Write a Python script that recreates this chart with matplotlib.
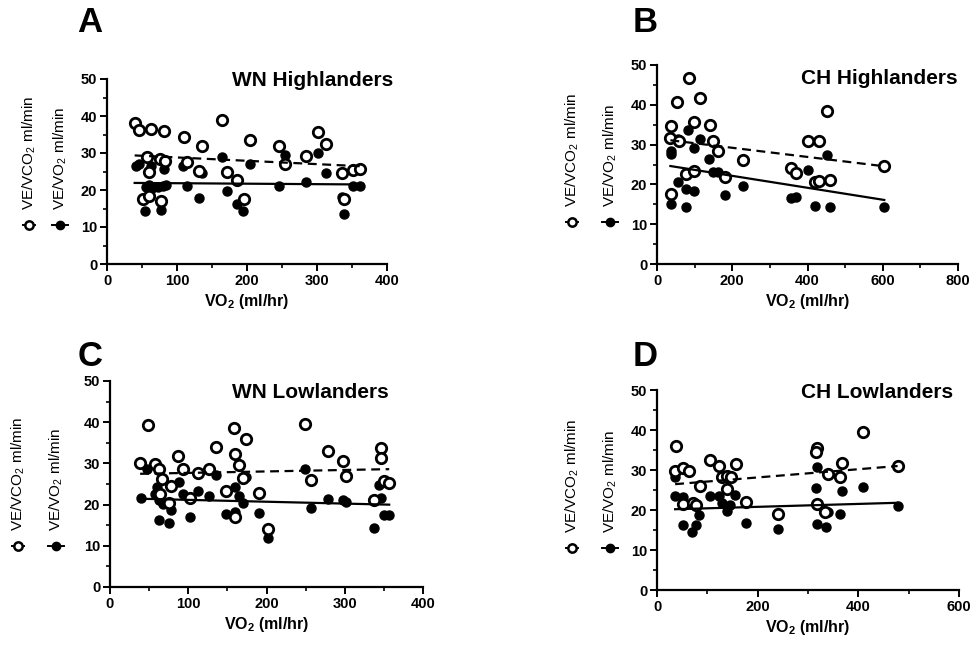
import matplotlib
matplotlib.use("Agg")
import matplotlib.pyplot as plt
import numpy as np
from matplotlib.lines import Line2D
from matplotlib.ticker import MultipleLocator

plt.rcParams['font.family'] = ['Liberation Sans', 'DejaVu Sans']
plt.rcParams['mathtext.fontset'] = 'custom'
plt.rcParams['mathtext.rm'] = 'Liberation Sans'
plt.rcParams['mathtext.it'] = 'Liberation Sans:italic'
plt.rcParams['mathtext.bf'] = 'Liberation Sans:bold'

# ---------------- data ----------------
titles = ["WN Highlanders", "CH Highlanders", "WN Lowlanders", "CH Lowlanders"]
panel_letters = ["A", "B", "C", "D"]
xmax_list = [400, 800, 400, 600]

# Panel A
a_open_x = [39.5, 45, 62.9, 82, 109.5, 135.7, 164, 204, 246, 301, 313, 57.6, 75.7, 83, 114.8,
            59.5, 132, 171, 186, 253.8, 283.8, 52, 60, 76.7, 195, 335, 338.6, 351, 361]
a_open_y = [38.0, 36.1, 36.4, 35.9, 34.2, 32.0, 38.9, 33.6, 31.8, 35.8, 32.5, 28.9, 28.4, 27.9, 27.7,
            24.8, 25.2, 24.8, 22.7, 27.0, 29.2, 17.5, 18.4, 16.9, 17.5, 24.7, 17.5, 25.3, 25.6]
a_fill_x = [41, 45.7, 63, 81.4, 55, 60, 64.8, 72.8, 80, 84.8, 108.6, 114.3, 132, 136, 164, 171.9,
            203.8, 186, 194, 53.8, 76.7, 245, 254.8, 283.8, 301, 313, 336, 338.6, 351, 361]
a_fill_y = [26.5, 27.0, 26.4, 25.6, 20.9, 21.4, 20.5, 20.9, 21.2, 21.4, 26.4, 21.1, 17.9, 24.5, 28.9, 19.8,
            26.9, 16.2, 14.2, 14.2, 14.7, 21.2, 29.5, 22.1, 30.0, 24.5, 18.0, 13.5, 21.1, 21.1]

# Panel B
b_open_x = [37.3, 35.6, 52, 57.8, 86, 77, 99.6, 99.6, 114.7, 139.6, 150, 161.8, 181, 228, 37.3,
            357, 369, 402, 431, 420, 431, 460, 453, 604]
b_open_y = [34.7, 31.7, 40.7, 30.9, 46.7, 22.5, 35.7, 23.3, 41.8, 34.9, 30.9, 28.5, 21.9, 26.1, 17.6,
            24.2, 22.9, 30.9, 30.9, 20.5, 20.9, 21.2, 38.4, 24.7]
b_fill_x = [37.3, 37.3, 37.3, 56.9, 55, 83.6, 77, 77, 97.8, 97.8, 113, 137.8, 148.4, 161.8, 181, 228,
            357, 369, 402, 420, 453, 460, 604]
b_fill_y = [28.4, 27.7, 15.1, 20.6, 31.3, 33.6, 18.9, 14.4, 29.2, 18.4, 31.3, 26.4, 23.1, 23.1, 17.4, 19.7,
            16.7, 16.8, 23.7, 14.5, 27.3, 14.2, 14.3]

# Panel C
c_open_x = [38.5, 49, 57.7, 62, 66, 64, 76, 77.8, 86.8, 93, 102.6, 113, 126, 135, 148.7, 158, 160,
            164.5, 160, 170, 174, 191, 201.7, 248.7, 257, 279, 297.9, 302, 337.6, 346, 346, 350, 356.8]
c_open_y = [30.0, 39.2, 29.9, 28.7, 26.2, 22.6, 20.4, 24.6, 31.8, 28.6, 21.6, 27.6, 28.7, 34.1, 23.4, 38.7, 32.2,
            29.6, 17.1, 26.4, 35.9, 22.9, 14.1, 39.5, 26.0, 32.9, 30.5, 27.0, 21.2, 33.7, 31.4, 25.8, 25.2]
c_fill_x = [39.3, 47, 60.7, 57.7, 63, 67.5, 77.8, 63, 74.8, 88, 93, 102.6, 113, 126, 135, 148.7, 160,
            160, 164.5, 170, 173.7, 191, 201.7, 248.7, 257, 279, 297.9, 302, 337.6, 346, 344, 350, 356.8]
c_fill_y = [21.7, 28.7, 24.2, 22.6, 21.0, 20.2, 18.7, 16.3, 15.5, 25.4, 22.5, 17.0, 23.4, 22.2, 27.1, 17.8, 24.2,
            18.2, 22.0, 20.4, 26.6, 17.9, 11.9, 28.6, 19.1, 21.4, 21.2, 20.6, 14.3, 21.7, 24.8, 17.5, 17.4]

# Panel D
d_open_x = [37.5, 36, 52.6, 63.8, 85.5, 51.3, 71, 77.6, 105, 123.7, 130, 140, 148, 156, 140, 177.6,
            240, 317.8, 315.8, 317.8, 333.5, 340, 363.8, 367, 410, 478]
d_open_y = [36.0, 29.8, 30.4, 29.8, 26.0, 21.5, 21.7, 21.2, 32.5, 31.1, 28.3, 28.5, 28.3, 31.5, 25.3, 22.1,
            19.0, 35.4, 34.6, 21.5, 19.4, 29.0, 28.2, 31.8, 39.4, 31.0]
d_fill_x = [36, 36, 52.6, 52.6, 69, 72.4, 77.6, 83.6, 105, 123.7, 130, 140, 146, 154, 177.6, 240,
            317.8, 315.8, 317.8, 335, 340, 363.8, 367, 410, 478]
d_fill_y = [28.3, 23.6, 23.3, 16.3, 14.6, 21.9, 16.3, 18.75, 23.6, 23.6, 21.7, 19.75, 21.25, 23.75, 16.7, 15.25,
            30.8, 25.6, 16.5, 15.7, 19.4, 18.9, 24.75, 25.8, 21.0]

# regression lines: (intercept, slope)
fit_open = [(29.7, -0.00903), (31.5, -0.0115), (27.34, 0.00355), (26.09, 0.01026)]
fit_fill = [(21.96, -0.00127), (25.15, -0.0150), (21.6, -0.00452), (20.06, 0.00365)]

open_x = [a_open_x, b_open_x, c_open_x, d_open_x]
open_y = [a_open_y, b_open_y, c_open_y, d_open_y]
fill_x = [a_fill_x, b_fill_x, c_fill_x, d_fill_x]
fill_y = [a_fill_y, b_fill_y, c_fill_y, d_fill_y]

# ---------------- layout ----------------
W, H = 977, 645
fig = plt.figure(figsize=(W / 100, H / 100), dpi=100)

# axes boxes in pixels: left, right, top, bottom
boxes = [(107, 387, 79, 264), (657, 958, 65, 264), (110, 423, 381, 587), (657, 959, 390, 590)]
letter_pos = [(90, 22), (645, 22), (90, 357), (645, 357)]
title_pos = [(393, 80), (958, 78), (389, 392), (953, 392)]
ylab_x = [(29, 60), (572, 610), (18, 56), (572, 610)]
ylab_marker_y = [225, 222, 546, 548]
minor_x = [50, 100, 50, 100]
major_x = [100, 200, 100, 200]


def fx(px):
    return px / W


def fy(py):
    return 1 - py / H


for i in range(4):
    l, r, t, b = boxes[i]
    ax = fig.add_axes([fx(l), fy(b), (r - l) / W, (b - t) / H])
    ax.set_xlim(0, xmax_list[i])
    ax.set_ylim(0, 50)
    for s in ['top', 'right']:
        ax.spines[s].set_visible(False)
    for s in ['left', 'bottom']:
        ax.spines[s].set_linewidth(1.6)
    ax.xaxis.set_major_locator(MultipleLocator(major_x[i]))
    ax.xaxis.set_minor_locator(MultipleLocator(minor_x[i]))
    ax.yaxis.set_major_locator(MultipleLocator(10))
    ax.yaxis.set_minor_locator(MultipleLocator(5))
    ax.tick_params(which='major', direction='out', length=5, width=1.4, labelsize=10.5, pad=2)
    ax.tick_params(which='minor', direction='out', length=3, width=1.2)
    for lab in ax.get_xticklabels() + ax.get_yticklabels():
        lab.set_fontweight('bold')
    ax.set_xlabel("VO$_\\mathbf{2}$ (ml/hr)", fontsize=11.5, fontweight='bold', labelpad=3)

    xo = np.array(open_x[i])
    xf = np.array(fill_x[i])
    ax.plot(xf, fill_y[i], 'o', color='black', markersize=6.5, zorder=3, clip_on=False)
    ax.plot(xo, open_y[i], 'o', markerfacecolor='white', markeredgecolor='black',
            markersize=7.5, markeredgewidth=2.0, zorder=4, clip_on=False)

    xl = np.array([min(xo.min(), xf.min()), max(xo.max(), xf.max())])
    b0, b1 = fit_open[i]
    ax.plot(xl, b0 + b1 * xl, color='black', linewidth=1.6, linestyle=(0, (4, 2.5)), zorder=5)
    b0, b1 = fit_fill[i]
    ax.plot(xl, b0 + b1 * xl, color='black', linewidth=1.6, linestyle='-', zorder=5)

    # panel letter and title
    fig.text(fx(letter_pos[i][0]), fy(letter_pos[i][1]), panel_letters[i], fontsize=25,
             fontweight='bold', ha='center', va='center')
    fig.text(fx(title_pos[i][0]), fy(title_pos[i][1]), titles[i], fontsize=15,
             fontweight='bold', ha='right', va='center')

    # y labels with marker keys
    x1, x2 = ylab_x[i]
    my = ylab_marker_y[i]
    fig.text(fx(x1), fy(my - 15), "VE/VCO$_2$ ml/min", rotation=90, fontsize=11,
             ha='center', va='bottom')
    fig.text(fx(x2), fy(my - 15), "VE/VO$_2$ ml/min", rotation=90, fontsize=11,
             ha='center', va='bottom')
    fig.add_artist(Line2D([fx(x1 - 6), fx(x1 + 6)], [fy(my), fy(my)], transform=fig.transFigure,
                          color='black', linewidth=1.4))
    fig.add_artist(Line2D([fx(x1)], [fy(my)], transform=fig.transFigure, marker='o',
                          markerfacecolor='white', markeredgecolor='black', markersize=6,
                          markeredgewidth=1.8, linestyle='none'))
    fig.add_artist(Line2D([fx(x2 - 8), fx(x2 + 8)], [fy(my), fy(my)], transform=fig.transFigure,
                          color='black', linewidth=1.4))
    fig.add_artist(Line2D([fx(x2)], [fy(my)], transform=fig.transFigure, marker='o',
                          color='black', markersize=6, linestyle='none'))

fig.savefig("out.png", dpi=100)
